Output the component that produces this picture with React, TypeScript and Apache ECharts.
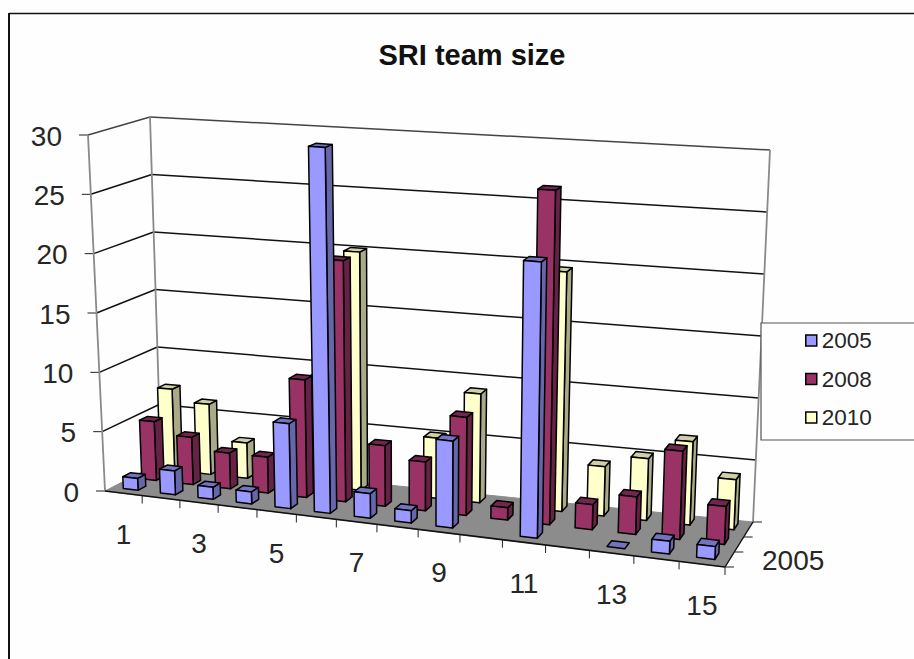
import React, { useEffect, useRef } from "react";
import * as echarts from "echarts";

const title = "SRI team size";
const categories = ["1","2","3","4","5","6","7","8","9","10","11","12","13","14","15"];
const yTicks = [0, 5, 10, 15, 20, 25, 30];
const seriesNames = ["2005", "2008", "2010"];
const depthLabel = "2005";
const values2005 = [1, 2, 1, 1, 7, 30, 2, 1, 7, null, 22, null, 0, 1, 1];
const values2008 = [5, 4, 3, 3, 9.8, 20, 5, 4, 8, 1, 27, 2, 3, 7, 3];
const values2010 = [7, 6, 3, null, 9, 20, null, 5, 9, null, 19.6, 4, 5, 6.7, 4];

const FONT = "'Liberation Sans', Arial, sans-serif";
const TXT = "#262626";
type Pt = [number, number];
const FLB: Pt = [105, 491], FLT: Pt = [88, 135];
const FRB: Pt = [725, 567], FRT: Pt = [740, 178];
const BLB: Pt = [161, 462], BLT: Pt = [150, 117];
const BRB: Pt = [753, 522], BRT: Pt = [770, 150];
const lerp = (a: Pt, b: Pt, t: number): Pt => [a[0] + (b[0] - a[0]) * t, a[1] + (b[1] - a[1]) * t];
const warp = (u: number) => u / (1 + 0.12 * (1 - u));
function P(u: number, v: number, w: number): Pt {
  const s = warp(u);
  const fb = lerp(FLB, FRB, s), ft = lerp(FLT, FRT, s);
  const bb = lerp(BLB, BRB, s), bt = lerp(BLT, BRT, s);
  return lerp(lerp(fb, ft, w), lerp(bb, bt, w), v);
}

const palettes = [
  { front: "#9999FF", side: "#6666AA", top: "#7373C0" },
  { front: "#993366", side: "#662244", top: "#73264D" },
  { front: "#FFFFCC", side: "#AAAA88", top: "#D0D0A6" },
];

function barSeries(name: string, row: number, vals: (number | null)[]) {
  const items = vals.map((v, i) => (v === null ? null : [i, v])).filter(Boolean);
  const pal = palettes[row];
  return {
    type: "custom", name, silent: true, clip: false,
    coordinateSystem: "cartesian2d",
    itemStyle: { color: pal.front },
    encode: { x: 0, y: 1 },
    data: items,
    renderItem: (params: any, api: any) => {
      const g = params.coordSys;
      const idx = api.value(0), val = api.value(1);
      const c = api.coord([idx, val]);
      const band = api.size([1, 0])[0];
      const uc = (c[0] - g.x) / g.width;
      const hw = (0.2 * band) / g.width;
      const w = (g.y + g.height - c[1]) / g.height;
      const u0 = uc - hw, u1 = uc + hw;
      const v0 = (row + 0.6 - 0.21) / 3, v1 = (row + 0.6 + 0.21) / 3;
      const stroke = { stroke: "#000", lineWidth: 1.5, lineJoin: "round" };
      const poly = (pts: Pt[], fill: string) => ({ type: "polygon", shape: { points: pts }, style: { fill, ...stroke } });
      const children =
        val === 0
          ? [poly([P(u0, v0, 0), P(u1, v0, 0), P(u1, v1, 0), P(u0, v1, 0)], pal.top)]
          : [
              poly([P(u1, v0, 0), P(u1, v1, 0), P(u1, v1, w), P(u1, v0, w)], pal.side),
              poly([P(u0, v0, w), P(u1, v0, w), P(u1, v1, w), P(u0, v1, w)], pal.top),
              poly([P(u0, v0, 0), P(u1, v0, 0), P(u1, v0, w), P(u0, v0, w)], pal.front),
            ];
      return { type: "group", children };
    },
  };
}

function line(a: Pt, b: Pt, stroke: string, lineWidth: number) {
  return { type: "line", shape: { x1: a[0], y1: a[1], x2: b[0], y2: b[1] }, style: { stroke, lineWidth } };
}
function label(text: string, x: number, y: number, align: string, fontSize = 28) {
  return { type: "text", style: { text, x, y, align, verticalAlign: "middle", fill: TXT, font: `${fontSize}px ${FONT}` } };
}

const wallSeries = {
  type: "custom", silent: true, clip: false, coordinateSystem: "cartesian2d",
  encode: { x: 0, y: 1 },
  data: yTicks.map((t) => [0, t]),
  renderItem: (params: any, api: any) => {
    const g = params.coordSys;
    const t = api.value(1);
    const c = api.coord([0, t]);
    const w = (g.y + g.height - c[1]) / g.height;
    const isTop = t === yTicks[yTicks.length - 1];
    const col = isTop ? "#444" : "#111";
    const children: any[] = [];
    if (t !== 0) {
      children.push(line(P(0, 0, w), P(0, 1, w), col, 1.5));
      children.push(line(P(0, 1, w), P(1, 1, w), col, 1.5));
    }
    const a = P(0, 0, w);
    children.push(line([a[0] - 9, a[1]], a, "#222", 1));
    children.push(label(String(t), a[0] - 26, a[1] + 1, "right"));
    return { type: "group", children };
  },
};

const edgeSeries = {
  type: "custom", silent: true, clip: false, coordinateSystem: "cartesian2d",
  encode: { x: 0, y: 1 },
  data: [[0, 0]],
  renderItem: () => ({
    type: "group",
    children: [
      line(P(0, 0, 0), P(0, 0, 1), "#8a8a8a", 1.8),
      line(P(0, 1, 0), P(0, 1, 1), "#8a8a8a", 1.8),
      line(P(1, 1, 0), P(1, 1, 1), "#8a8a8a", 1.8),
      {
        type: "polygon",
        shape: { points: [P(0, 0, 0), P(1, 0, 0), P(1, 1, 0), P(0, 1, 0)] },
        style: { fill: "#8C8C8C", stroke: "#8C8C8C", lineWidth: 1 },
      },
      line(P(0, 0, 0), P(1, 0, 0), "#111", 1.6),
      line(P(1, 0, 0), P(1, 1, 0), "#111", 1.4),
      label(depthLabel, 762, 560, "left"),
      ...seriesNames.concat(["end"]).map((_, r) => {
        const p = P(1, r / 3, 0);
        return line(p, [p[0] + 9, p[1]] as Pt, "#222", 1);
      }),
    ],
  }),
};

const catSeries = {
  type: "custom", silent: true, clip: false, coordinateSystem: "cartesian2d",
  encode: { x: 0, y: 1 },
  data: categories.map((_, i) => [i, 0]),
  renderItem: (params: any, api: any) => {
    const g = params.coordSys;
    const i = api.value(0);
    const c = api.coord([i, 0]);
    const band = api.size([1, 0])[0];
    const u = (c[0] - g.x) / g.width;
    const hb = band / 2 / g.width;
    const tick = P(u + hb, 0, 0);
    const mid = P(u, 0, 0);
    const children: any[] = [line(tick, [tick[0], tick[1] + 8] as Pt, "#222", 1)];
    if (i % 2 === 0) children.push(label(categories[i], mid[0], mid[1] + 41, "center"));
    return { type: "group", children };
  },
};

export default function App() {
  const ref = useRef<HTMLDivElement>(null);
  useEffect(() => {
    document.body.style.margin = "0";
    const chart = echarts.init(ref.current!, undefined, { renderer: "svg" });
    chart.setOption({
      animation: false,
      backgroundColor: "#FEFEFE",
      title: {
        text: title, left: 467, top: 35, textAlign: "center",
        textStyle: { fontFamily: FONT, fontSize: 29, fontWeight: "bold", color: "#111" },
      },
      grid: { left: 0, right: 0, top: 0, bottom: 0 },
      xAxis: { type: "category", data: categories, show: false },
      yAxis: { type: "value", min: 0, max: 30, interval: 5, show: false },
      legend: {
        orient: "vertical", left: 800, top: 324, z: 10, itemWidth: 11, itemHeight: 11, itemGap: 15.5,
        data: seriesNames, selectedMode: false, icon: "rect",
        itemStyle: { borderColor: "#000", borderWidth: 1.5 },
        textStyle: { fontFamily: FONT, fontSize: 22.5, color: TXT },
      },
      graphic: [
        { type: "rect", z: 5, shape: { x: 761, y: 323, width: 170, height: 117 }, style: { fill: "#FEFEFE", stroke: "#555", lineWidth: 1.2 } },
        { type: "line", z: 5, shape: { x1: 9, y1: 13.5, x2: 914, y2: 13.5 }, style: { stroke: "#111", lineWidth: 1.6 } },
        { type: "line", z: 5, shape: { x1: 9, y1: 13, x2: 9, y2: 659 }, style: { stroke: "#111", lineWidth: 2 } },
      ],
      series: [
        wallSeries,
        edgeSeries,
        barSeries("2010", 2, values2010),
        barSeries("2008", 1, values2008),
        barSeries("2005", 0, values2005),
        catSeries,
      ],
    });
    return () => chart.dispose();
  }, []);
  return <div ref={ref} style={{ position: "absolute", left: 0, top: 0, width: 914, height: 659 }} />;
}
